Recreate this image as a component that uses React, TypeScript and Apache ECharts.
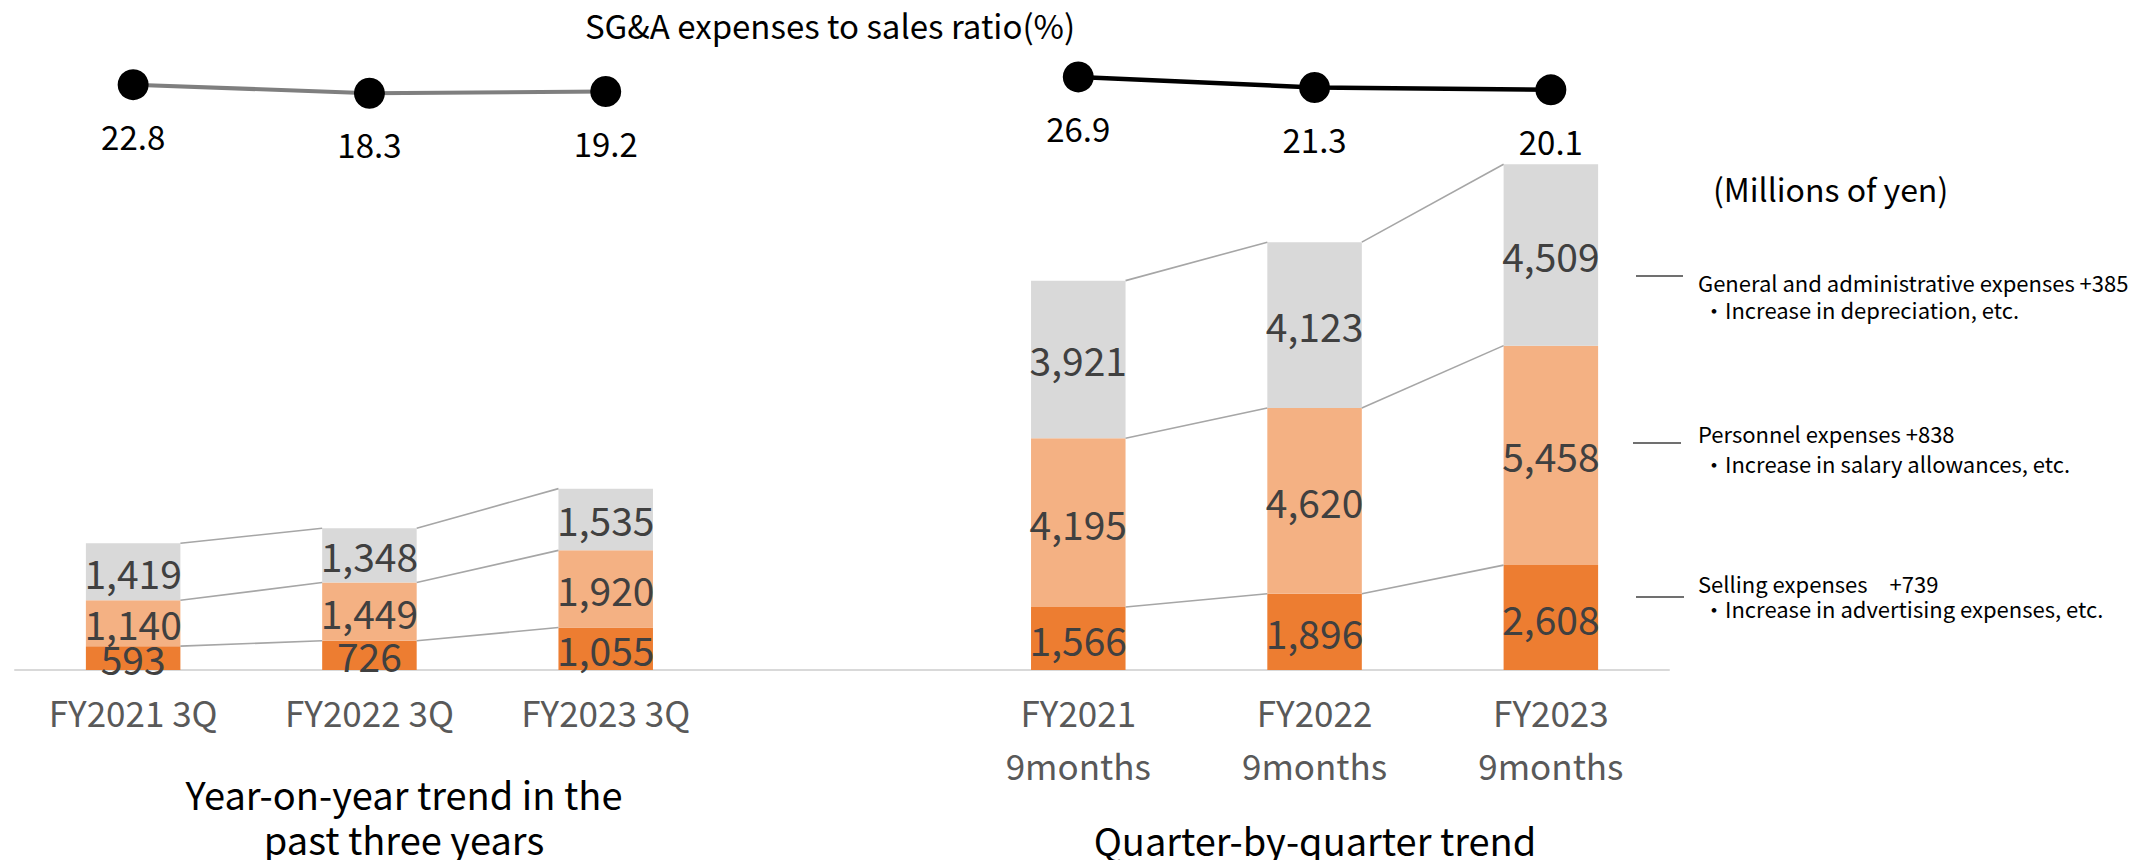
import React, { useEffect, useRef } from "react";
import * as echarts from "echarts";

const categories = [
  "FY2021 3Q",
  "FY2022 3Q",
  "FY2023 3Q",
  "",
  "FY2021\n9months",
  "FY2022\n9months",
  "FY2023\n9months",
];
const sellingExpenses = [593, 726, 1055, null, 1566, 1896, 2608];
const personnelExpenses = [1140, 1449, 1920, null, 4195, 4620, 5458];
const generalExpenses = [1419, 1348, 1535, null, 3921, 4123, 4509];
const ratioYearOnYear = [22.8, 18.3, 19.2, null, null, null, null];
const ratioNineMonths = [null, null, null, null, 26.9, 21.3, 20.1];

const FONT = "'Noto Sans CJK JP', 'Noto Sans', sans-serif";

function buildConnectors() {
  const levels = [sellingExpenses, personnelExpenses, generalExpenses];
  const out: number[][] = [];
  for (let i = 0; i < categories.length - 1; i++) {
    if (sellingExpenses[i] == null || sellingExpenses[i + 1] == null) continue;
    let c0 = 0;
    let c1 = 0;
    for (const lv of levels) {
      c0 += lv[i] as number;
      c1 += lv[i + 1] as number;
      out.push([i, c0, i + 1, c1]);
    }
  }
  return out;
}

export default function App() {
  const ref = useRef<HTMLDivElement>(null);
  useEffect(() => {
    if (!ref.current) return;
    const chart = echarts.init(ref.current, undefined, { renderer: "svg" });
    const fmt = (p: any) =>
      p.value == null ? "" : Number(p.value).toLocaleString("en-US");
    const barLabel = {
      show: true,
      position: "inside",
      color: "#404040",
      fontSize: 39,
      fontFamily: FONT,
      formatter: fmt,
    };
    const annot = (x: number, y: number, text: string, size = 22) => ({
      type: "text",
      x,
      y,
      style: {
        text,
        fill: "#000",
        font: `${size}px ${FONT}`,
        textAlign: "left",
        textVerticalAlign: "middle",
      },
    });
    const annotLine = (x1: number, x2: number, y: number) => ({
      type: "line",
      shape: { x1, y1: y, x2, y2: y },
      style: { stroke: "#404040", lineWidth: 1.5 },
    });
    chart.setOption({
      animation: false,
      backgroundColor: "#fff",
      grid: [
        { left: 15, right: 470, top: 107, bottom: 190 },
        { left: 15, right: 470, top: 71, bottom: 732 },
      ],
      xAxis: [
        {
          type: "category",
          gridIndex: 0,
          data: categories,
          axisLine: { lineStyle: { color: "#D9D9D9", width: 2 } },
          axisTick: { show: false },
          axisLabel: {
            color: "#595959",
            fontSize: 35,
            fontFamily: FONT,
            lineHeight: 53,
            margin: 15,
            interval: 0,
          },
        },
        {
          type: "category",
          gridIndex: 1,
          data: categories,
          show: false,
        },
      ],
      yAxis: [
        { type: "value", gridIndex: 0, min: 0, max: 14000, show: false },
        { type: "value", gridIndex: 1, min: 0, max: 30, show: false },
      ],
      series: [
        {
          name: "Selling expenses",
          type: "bar",
          stack: "sga",
          barWidth: "40%",
          data: sellingExpenses,
          itemStyle: { color: "#ED7D31" },
          label: barLabel,
        },
        {
          name: "Personnel expenses",
          type: "bar",
          stack: "sga",
          barWidth: "40%",
          data: personnelExpenses,
          itemStyle: { color: "#F4B183" },
          label: barLabel,
        },
        {
          name: "General and administrative expenses",
          type: "bar",
          stack: "sga",
          barWidth: "40%",
          data: generalExpenses,
          itemStyle: { color: "#D9D9D9" },
          label: barLabel,
        },
        {
          name: "connectors",
          type: "custom",
          xAxisIndex: 0,
          yAxisIndex: 0,
          z: 5,
          silent: true,
          data: buildConnectors(),
          encode: { x: 0, y: 1 },
          renderItem: (params: any, api: any) => {
            const p0 = api.coord([api.value(0), api.value(1)]);
            const p1 = api.coord([api.value(2), api.value(3)]);
            const band = api.size([1, 0])[0];
            const half = band * 0.2;
            return {
              type: "line",
              shape: {
                x1: p0[0] + half,
                y1: p0[1],
                x2: p1[0] - half,
                y2: p1[1],
              },
              style: { stroke: "#A6A6A6", lineWidth: 1.6 },
            };
          },
        },
        {
          name: "SG&A ratio (YoY)",
          type: "line",
          xAxisIndex: 1,
          yAxisIndex: 1,
          data: ratioYearOnYear,
          symbol: "circle",
          symbolSize: 31,
          lineStyle: { color: "#7F7F7F", width: 4 },
          itemStyle: { color: "#000" },
          label: {
            show: true,
            position: "bottom",
            distance: 19,
            color: "#000",
            fontSize: 33,
            fontFamily: FONT,
          },
        },
        {
          name: "SG&A ratio (9 months)",
          type: "line",
          xAxisIndex: 1,
          yAxisIndex: 1,
          data: ratioNineMonths,
          symbol: "circle",
          symbolSize: 31,
          lineStyle: { color: "#000", width: 4.5 },
          itemStyle: { color: "#000" },
          label: {
            show: true,
            position: "bottom",
            distance: 19,
            color: "#000",
            fontSize: 33,
            fontFamily: FONT,
          },
        },
      ],
      graphic: [
        {
          type: "text",
          x: 830,
          y: 25,
          style: {
            text: "SG&A expenses to sales ratio(%)",
            fill: "#000",
            font: `33px ${FONT}`,
            textAlign: "center",
            textVerticalAlign: "middle",
          },
        },
        annot(1713, 188, "(Millions of yen)", 32),
        annotLine(1636, 1683, 276),
        annot(1698, 282, "General and administrative expenses +385"),
        annot(1703, 309, "・Increase in depreciation, etc."),
        annotLine(1633, 1681, 443),
        annot(1698, 433, "Personnel expenses +838"),
        annot(1703, 463, "・Increase in salary allowances, etc."),
        annotLine(1636, 1684, 597),
        annot(1698, 583, "Selling expenses　+739"),
        annot(1703, 608, "・Increase in advertising expenses, etc."),
        {
          type: "text",
          x: 404,
          y: 771,
          style: {
            text: "Year-on-year trend in the\npast three years",
            fill: "#000",
            font: `38px ${FONT}`,
            lineHeight: 45,
            textAlign: "center",
            textVerticalAlign: "top",
          },
        },
        {
          type: "text",
          x: 1315,
          y: 839,
          style: {
            text: "Quarter-by-quarter trend",
            fill: "#000",
            font: `38px ${FONT}`,
            textAlign: "center",
            textVerticalAlign: "middle",
          },
        },
      ],
    });
    return () => chart.dispose();
  }, []);
  return (
    <div
      ref={ref}
      style={{ position: "fixed", left: 0, top: 0, width: 2139, height: 860 }}
    />
  );
}
